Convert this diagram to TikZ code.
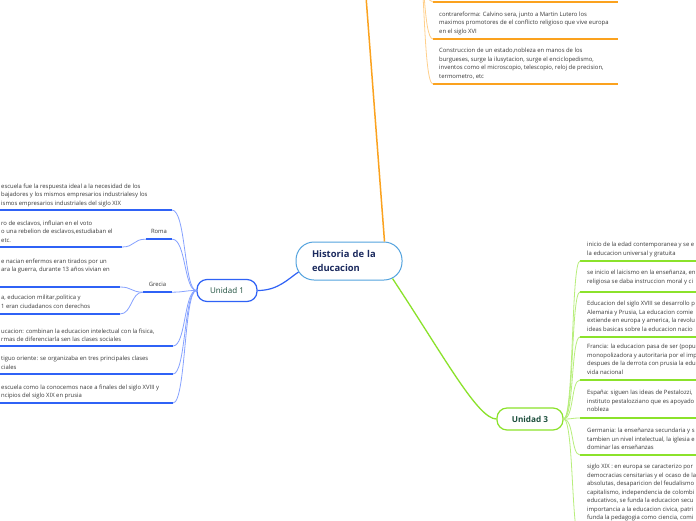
\documentclass[tikz,border=0pt]{standalone}
\usepackage{fontspec}
\setmainfont{Open Sans}
\usepackage{xcolor}
\usepackage{tikz}
\usetikzlibrary{positioning}

\definecolor{bluebr}{HTML}{2F62F6}
\definecolor{bluecon}{HTML}{86A2FF}
\definecolor{greenbr}{HTML}{8BE22B}
\definecolor{greencon}{HTML}{B8EE7C}
\definecolor{orangebr}{HTML}{FBA21E}
\definecolor{orangecon}{HTML}{FFD08C}
\definecolor{rootline}{HTML}{54A3DE}
\definecolor{roottext}{HTML}{1B2A5E}
\definecolor{unittext}{HTML}{1B4D3B}
\definecolor{leaftext}{HTML}{3A3A3A}

\begin{document}
\begin{tikzpicture}[
    x=1pt, y=-1pt,
    hub/.style={
        rectangle,
        rounded corners=18pt,
        draw=rootline,
        line width=1pt,
        fill=white,
        minimum width=106pt,
        minimum height=38pt,
        inner xsep=16pt,
        text width=74pt,
        align=left,
        font=\fontsize{9.4}{14}\selectfont\bfseries,
        text=roottext
    },
    unit/.style={
        rectangle,
        rounded corners=10pt,
        line width=1.2pt,
        fill=white,
        minimum height=22pt,
        font=\fontsize{8}{10}\selectfont,
        text=unittext
    },
    leaf/.style={anchor=north west, inner sep=0pt, align=left,
        font=\fontsize{5.9}{8.5}\selectfont, text=leaftext},
    tag/.style={inner sep=0pt, minimum height=16pt,
        font=\fontsize{5.9}{8.5}\selectfont, text=leaftext},
    bline/.style={draw=bluebr, line width=1.6pt},
    bcon/.style={draw=bluecon, line width=0.8pt},
    gline/.style={draw=greenbr, line width=1.6pt},
    gcon/.style={draw=greencon, line width=0.8pt},
    oline/.style={draw=orangebr, line width=1.6pt},
    ocon/.style={draw=orangecon, line width=0.8pt}
]

\useasboundingbox (0,0) rectangle (696,520);
\clip (0,0) rectangle (696,520);
\fill[white] (0,0) rectangle (696,520);

% Central topic and units
\node[hub] (hist) at (349,261) {Historia de la\\educacion};
\node[unit, draw=bluebr, minimum width=60pt] (u1) at (227,290.5) {Unidad 1};
\node[unit, draw=greenbr, minimum width=66pt, font=\fontsize{8.2}{10}\selectfont\bfseries] (u3) at (530,419) {Unidad 3};
\coordinate (o-up) at (364,-30);

% Main branches
\draw[draw=orangebr, line width=1.5pt] ([xshift=-18pt]hist.north east) -- (o-up);
\draw[bline, line width=1.2pt] (u1.east) .. controls (278,290.5) and (288,279) .. ([shift={(3,11)}]hist.west);
\draw[gline, line width=1.3pt] ([shift={(-10,-2)}]hist.south east) .. controls (445,358) and (478,419) .. (u3.west);

% Unidad 1 leaves
\node[leaf] (esc) at (1,183.3) {escuela fue la respuesta ideal a la necesidad de los\\bajadores y los mismos empresarios industrialesy los\\ismos empresarios industriales del siglo XIX};
\node[leaf] (esclavos) at (1,220.3) {ro de esclavos, influian en el voto\\o una rebelion de esclavos,estudiaban el\\etc.};
\node[leaf] (esparta) at (1,258.3) {e nacian enfermos eran tirados por un\\ara la guerra, durante 13 años vivian en};
\node[leaf] (atenas) at (1,295.3) {a, educacion militar,politica y\\1 eran ciudadanos con derechos};
\node[leaf] (fisica) at (1,328.3) {ucacion: combinan la educacion intelectual con la fisica,\\rmas de diferenciarla sen las clases sociales};
\node[leaf] (oriente) at (1,356.3) {tiguo oriente: se organizaba en tres principales clases\\ciales};
\node[leaf] (prusia) at (1,384.3) {escuela como la conocemos nace a finales del siglo XVIII y\\ncipios del siglo XIX en prusia};
\node[tag, minimum width=26pt] (roma) at (159,231) {Roma};
\node[tag, minimum width=29pt] (grecia) at (157.5,284) {Grecia};

\coordinate (esc-e) at (172,210);
\coordinate (esclavos-e) at (122,247);
\coordinate (esparta-e) at (120,287);
\coordinate (atenas-e) at (120,314);
\coordinate (fisica-e) at (173,346);
\coordinate (oriente-e) at (173,374);
\coordinate (prusia-e) at (173,403);

\draw[bline] (esc-e) -- ++(-180,0);
\draw[bline] (esclavos-e) -- ++(-130,0);
\draw[bline] (esparta-e) -- ++(-130,0);
\draw[bline] (atenas-e) -- ++(-130,0);
\draw[bline] (fisica-e) -- ++(-180,0);
\draw[bline] (oriente-e) -- ++(-180,0);
\draw[bline] (prusia-e) -- ++(-180,0);
\draw[bline] (roma.south west) -- (roma.south east);
\draw[bline] (grecia.south west) -- (grecia.south east);

\draw[bcon] (u1.west) .. controls (184,290.5) and (186,210) .. (esc-e);
\draw[bcon] (u1.west) .. controls (184,290.5) and (186,239) .. (roma.south east);
\draw[bcon] (u1.west) .. controls (184,290.5) and (186,292) .. (grecia.south east);
\draw[bcon] (u1.west) .. controls (184,290.5) and (186,346) .. (fisica-e);
\draw[bcon] (u1.west) .. controls (184,290.5) and (186,374) .. (oriente-e);
\draw[bcon] (u1.west) .. controls (184,290.5) and (186,403) .. (prusia-e);
\draw[bcon] (roma.south west) .. controls (133,239) and (135,247) .. (esclavos-e);
\draw[bcon] (grecia.south west) .. controls (131,292) and (132,287) .. (esparta-e);
\draw[bcon] (grecia.south west) .. controls (131,292) and (132,314) .. (atenas-e);

% Unidad 3 leaves
\node[leaf] (inicio) at (587,242.3) {inicio de la edad contemporanea y se e\\la educacion universal y gratuita};
\node[leaf] (laicismo) at (587,270.3) {se inicio el laicismo en la enseñanza, en\\religiosa se daba instruccion moral y ci};
\node[leaf] (xviii) at (587,301.3) {Educacion del siglo XVIII se desarrollo p\\Alemania y Prusia, La educacion comie\\extiende en europa y america, la revolu\\ideas basicas sobre la educacion nacio};
\node[leaf] (francia) at (587,344.3) {Francia: la educacion pasa de ser (popu\\monopolizadora y autoritaria por el imp\\despues de la derrota con prusia la edu\\vida nacional};
\node[leaf] (espana) at (587,390.3) {España: siguen las ideas de Pestalozzi,\\instituto pestalozziano que es apoyado\\nobleza};
\node[leaf] (germania) at (587,428.3) {Germania: la enseñanza secundaria y s\\tambien un nivel intelectual, la iglesia e\\dominar las enseñanzas};
\node[leaf] (xix) at (587,464.3) {siglo XIX : en europa se caracterizo por\\democracias censitarias y el ocaso de la\\absolutas, desaparicion del feudalismo\\capitalismo, independencia de colombi\\educativos, se funda la educacion secu\\importancia a la educacion civica, patri\\funda la pedagogia como ciencia, comi};

\coordinate (inicio-w) at (580,261);
\coordinate (laicismo-w) at (580,292);
\coordinate (xviii-w) at (580,337);
\coordinate (francia-w) at (580,380);
\coordinate (espana-w) at (580,418);
\coordinate (germania-w) at (580,455);
\coordinate (xix-w) at (580,540);

\draw[gline] (inicio-w) -- ++(130,0);
\draw[gline] (laicismo-w) -- ++(130,0);
\draw[gline] (xviii-w) -- ++(130,0);
\draw[gline] (francia-w) -- ++(130,0);
\draw[gline] (espana-w) -- ++(130,0);
\draw[gline] (germania-w) -- ++(130,0);

\draw[gcon] (u3.east) .. controls (574,419) and (571,261) .. (inicio-w);
\draw[gcon] (u3.east) .. controls (574,419) and (571,292) .. (laicismo-w);
\draw[gcon] (u3.east) .. controls (574,419) and (571,337) .. (xviii-w);
\draw[gcon] (u3.east) .. controls (574,419) and (571,380) .. (francia-w);
\draw[gcon] (u3.east) .. controls (574,419) and (571,418) .. (espana-w);
\draw[gcon] (u3.east) .. controls (574,419) and (571,455) .. (germania-w);
\draw[gcon] (u3.east) .. controls (574,419) and (571,540) .. (xix-w);

% Upper (orange) leaves
\coordinate (o-root) at (418,-40);
\node[leaf] (contra) at (439,11.3) {contrareforma: Calvino sera, junto a Martin Lutero los\\maximos promotores de el conflicto religioso que vive europa\\en el siglo XVI};
\node[leaf] (estado) at (439,48.3) {Construccion de un estado,nobleza en manos de los\\burgueses, surge la ilusytacion, surge el enciclopedismo,\\inventos como el microscopio, telescopio, reloj de precision,\\termometro, etc};

\coordinate (prev-w) at (433,2);
\coordinate (contra-w) at (433,39);
\coordinate (estado-w) at (433,84);

\draw[oline] (prev-w) -- ++(185,0);
\draw[oline] (contra-w) -- ++(185,0);
\draw[oline] (estado-w) -- ++(185,0);

\draw[ocon] (o-root) .. controls (425,-40) and (423,2) .. (prev-w);
\draw[ocon] (o-root) .. controls (425,-40) and (423,39) .. (contra-w);
\draw[ocon] (o-root) .. controls (425,-40) and (423,84) .. (estado-w);

\end{tikzpicture}
\end{document}
